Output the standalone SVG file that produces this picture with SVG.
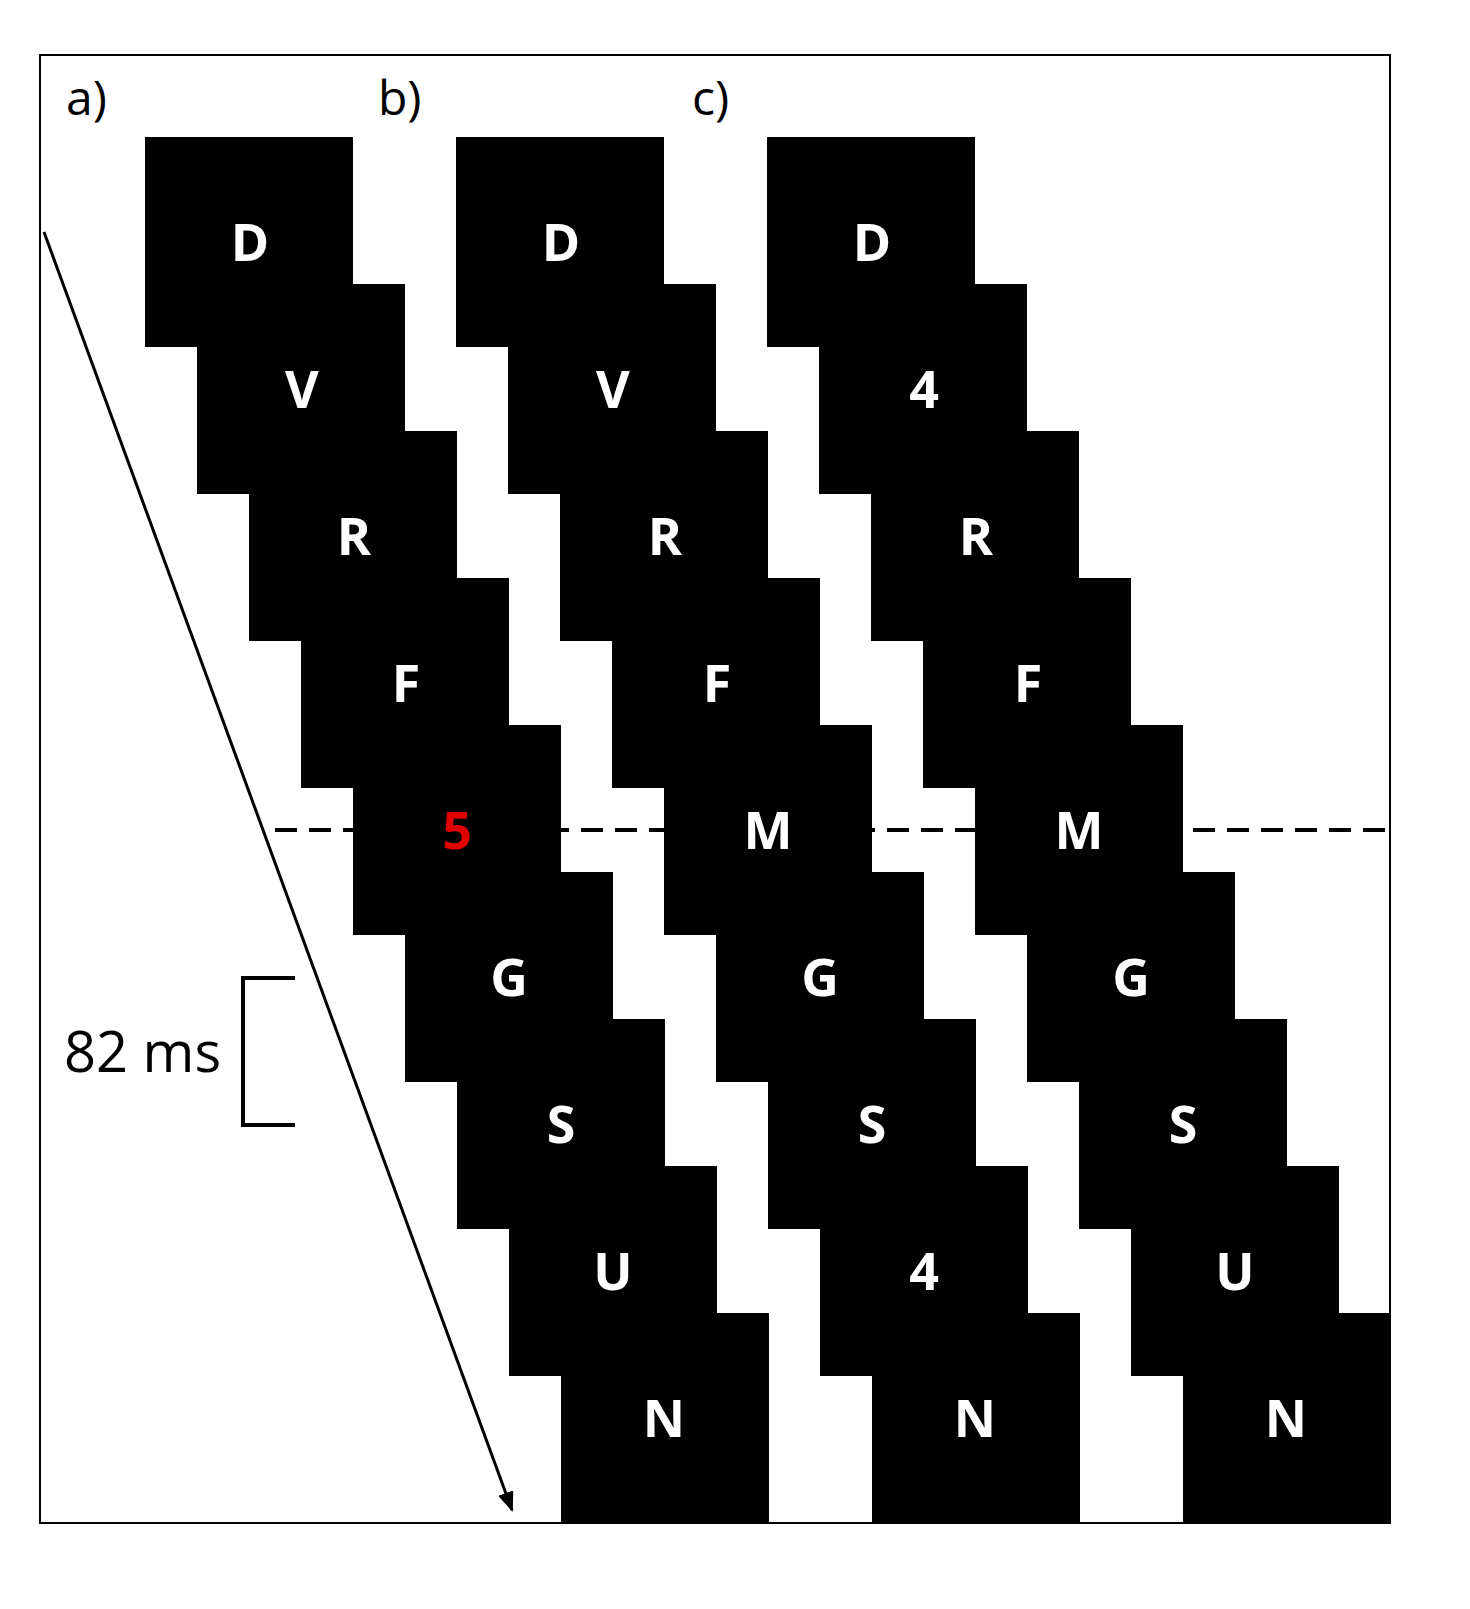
<svg xmlns="http://www.w3.org/2000/svg" width="1470" height="1609" viewBox="0 0 1470 1609">
<style>
.sq{fill:#000}
.l{font-family:"Open Sans","Liberation Sans",sans-serif;font-weight:bold;font-size:52px;fill:#fff;text-anchor:middle}
.t{font-family:"Open Sans","Liberation Sans",sans-serif;font-size:48px;fill:#000}
</style>
<defs>
<marker id="ah2" markerWidth="20" markerHeight="16" refX="18" refY="8" orient="auto" markerUnits="userSpaceOnUse"><path d="M0,0 L20,8 L0,16 z" fill="#000"/></marker></defs>
<rect x="0" y="0" width="1470" height="1609" fill="#fff"/>
<rect x="40" y="55" width="1350" height="1468" fill="none" stroke="#000" stroke-width="2"/>
<g id="connectors">
<line x1="275" y1="830" x2="1390" y2="830" stroke="#000" stroke-width="4" stroke-dasharray="22,12"/>
<line x1="44" y1="232" x2="512" y2="1510" stroke="#000" stroke-width="3" marker-end="url(#ah2)"/>
<path d="M295,978 H243 V1125 H295" fill="none" stroke="#000" stroke-width="4"/>
</g>
<g id="labels">
<text class="t" x="66" y="115">a)</text>
<text class="t" x="378" y="115">b)</text>
<text class="t" x="692" y="115">c)</text>
<text class="t" x="64" y="1072" style="font-size:56px">82 ms</text>
</g>
<g id="colA">
<rect class="sq" x="145" y="137" width="208" height="210"/><text class="l" x="250" y="261">D</text>
<rect class="sq" x="197" y="284" width="208" height="210"/><text class="l" x="302" y="408">V</text>
<rect class="sq" x="249" y="431" width="208" height="210"/><text class="l" x="354" y="555">R</text>
<rect class="sq" x="301" y="578" width="208" height="210"/><text class="l" x="406" y="702">F</text>
<rect class="sq" x="353" y="725" width="208" height="210"/><text class="l" x="457" y="849" style="fill:#e00000">5</text>
<rect class="sq" x="405" y="872" width="208" height="210"/><text class="l" x="509" y="996">G</text>
<rect class="sq" x="457" y="1019" width="208" height="210"/><text class="l" x="561" y="1143">S</text>
<rect class="sq" x="509" y="1166" width="208" height="210"/><text class="l" x="613" y="1290">U</text>
<rect class="sq" x="561" y="1313" width="208" height="210"/><text class="l" x="664" y="1437">N</text>
</g>
<g id="colB">
<rect class="sq" x="456" y="137" width="208" height="210"/><text class="l" x="561" y="261">D</text>
<rect class="sq" x="508" y="284" width="208" height="210"/><text class="l" x="613" y="408">V</text>
<rect class="sq" x="560" y="431" width="208" height="210"/><text class="l" x="665" y="555">R</text>
<rect class="sq" x="612" y="578" width="208" height="210"/><text class="l" x="717" y="702">F</text>
<rect class="sq" x="664" y="725" width="208" height="210"/><text class="l" x="768" y="849">M</text>
<rect class="sq" x="716" y="872" width="208" height="210"/><text class="l" x="820" y="996">G</text>
<rect class="sq" x="768" y="1019" width="208" height="210"/><text class="l" x="872" y="1143">S</text>
<rect class="sq" x="820" y="1166" width="208" height="210"/><text class="l" x="924" y="1290">4</text>
<rect class="sq" x="872" y="1313" width="208" height="210"/><text class="l" x="975" y="1437">N</text>
</g>
<g id="colC">
<rect class="sq" x="767" y="137" width="208" height="210"/><text class="l" x="872" y="261">D</text>
<rect class="sq" x="819" y="284" width="208" height="210"/><text class="l" x="924" y="408">4</text>
<rect class="sq" x="871" y="431" width="208" height="210"/><text class="l" x="976" y="555">R</text>
<rect class="sq" x="923" y="578" width="208" height="210"/><text class="l" x="1028" y="702">F</text>
<rect class="sq" x="975" y="725" width="208" height="210"/><text class="l" x="1079" y="849">M</text>
<rect class="sq" x="1027" y="872" width="208" height="210"/><text class="l" x="1131" y="996">G</text>
<rect class="sq" x="1079" y="1019" width="208" height="210"/><text class="l" x="1183" y="1143">S</text>
<rect class="sq" x="1131" y="1166" width="208" height="210"/><text class="l" x="1235" y="1290">U</text>
<rect class="sq" x="1183" y="1313" width="208" height="210"/><text class="l" x="1286" y="1437">N</text>
</g>
</svg>
